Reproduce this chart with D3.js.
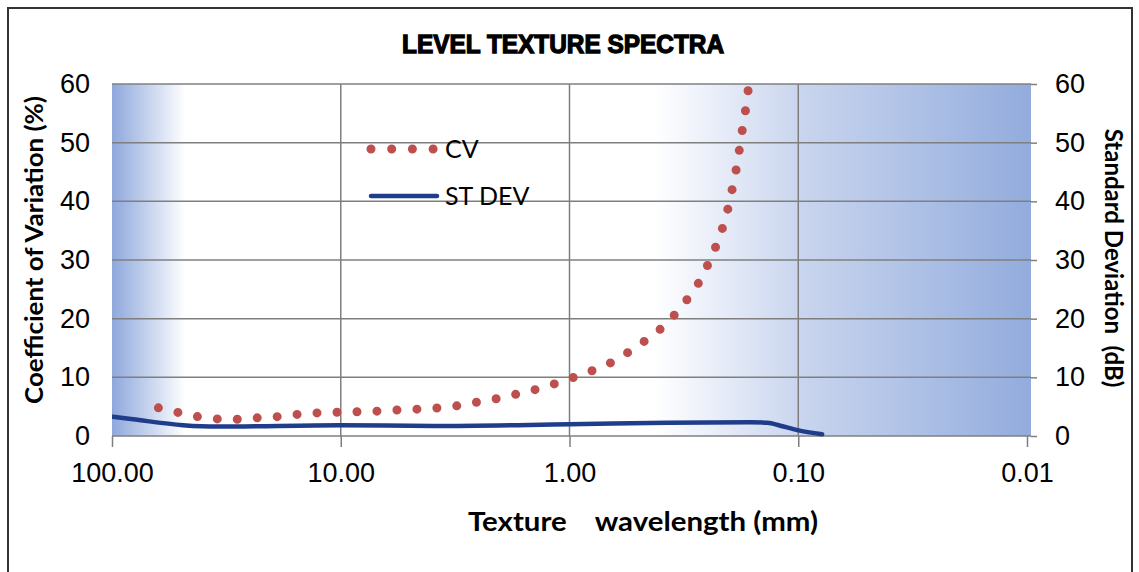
<!DOCTYPE html>
<html>
<head>
<meta charset="utf-8">
<script src="https://cdn.jsdelivr.net/npm/d3@7"></script>
<style>
  html, body { margin: 0; padding: 0; background: #fff; }
  svg { display: block; font-family: Lato, "Open Sans", sans-serif; }
</style>
</head>
<body>
<div id="viz_canvas"></div>
<script>
"use strict";

// chart text
var chartTitle = "LEVEL TEXTURE SPECTRA";
var xTitle = "Texture    wavelength (mm)";
var yLeftTitle = "Coefficient of Variation (%)";
var yRightTitle = "Standard Deviation  (dB)";
var seriesNames = ["CV", "ST DEV"];

// axis ticks
var xTicks = [100, 10, 1, 0.1, 0.01];
var yTicks = [0, 10, 20, 30, 40, 50, 60];

// CV series (dotted line), wavelength in mm
var cvWavelength = [62.7, 51.3, 42.2, 34.4, 28.3, 23.1, 18.9, 15.3, 12.5, 10.2, 8.33, 6.84, 5.55, 4.54, 3.72, 3.04, 2.48, 2.03, 1.66, 1.37, 1.12, 0.926, 0.766, 0.637, 0.538, 0.454, 0.388, 0.338, 0.298, 0.267, 0.244, 0.2255, 0.211, 0.2005, 0.1926, 0.185, 0.1795, 0.174, 0.1685, 0.1647, 0.16];
var cvValue = [4.8, 4.0, 3.3, 2.9, 2.85, 3.1, 3.3, 3.7, 3.95, 4.05, 4.15, 4.25, 4.45, 4.6, 4.8, 5.2, 5.85, 6.45, 7.25, 8.05, 9.1, 10.2, 11.4, 12.8, 14.6, 16.6, 18.7, 21.2, 23.9, 26.7, 29.9, 33.0, 36.3, 39.6, 42.9, 46.3, 49.7, 53.2, 56.5, 59.8, 63];

// ST DEV series (solid line)
var sdWavelength = [100, 80.9, 48.9, 34.7, 10.06, 3.94, 1.0, 0.373, 0.162, 0.1364, 0.1197, 0.1008, 0.0786];
var sdValue = [3.3, 2.85, 1.85, 1.6, 1.85, 1.7, 2.0, 2.25, 2.35, 2.25, 1.75, 1.0, 0.3];

var createChart = function () {
    var width = 1139, height = 572;
    var plot = { left: 112, right: 1027, top: 84, bottom: 436 };
    var svg = d3.select("#viz_canvas").append("svg")
        .attr("width", width).attr("height", height);
    var x, y;

    function start() {
        x = d3.scaleLog().domain([100, 0.01]).range([plot.left, plot.right]);
        y = d3.scaleLinear().domain([0, 60]).range([plot.bottom, plot.top]);
        drawFrame();
        drawBackground();
        drawGrid();
        drawAxes();
        drawSeries();
        drawLegend();
    }

    function drawFrame() {
        svg.append("rect")
            .attr("x", 8).attr("y", 8)
            .attr("width", 1124).attr("height", 620)
            .attr("fill", "#fff")
            .attr("stroke", "#333").attr("stroke-width", 2);

        svg.append("text")
            .attr("x", 563).attr("y", 53)
            .attr("text-anchor", "middle")
            .attr("font-family", "'Liberation Sans', Arial, sans-serif")
            .attr("font-weight", 900)
            .attr("font-size", 26)
            .attr("stroke", "#000").attr("stroke-width", 1.3)
            .attr("textLength", 322).attr("lengthAdjust", "spacingAndGlyphs")
            .text(chartTitle);
    }

    function drawBackground() {
        var grad = svg.append("defs").append("linearGradient")
            .attr("id", "plotBg").attr("x1", "0%").attr("x2", "100%");
        var stops = [[0, "#8ea8dc"], [0.08, "#ffffff"], [0.59, "#ffffff"], [0.75, "#c9d5ee"], [1, "#93acdd"]];
        grad.selectAll("stop").data(stops).enter().append("stop")
            .attr("offset", function (d) { return d[0]; })
            .attr("stop-color", function (d) { return d[1]; });

        svg.append("rect")
            .attr("x", plot.left).attr("y", plot.top)
            .attr("width", plot.right - plot.left + 4)
            .attr("height", plot.bottom - plot.top)
            .attr("fill", "url(#plotBg)");
    }

    function drawGrid() {
        svg.append("g").attr("class", "hgrid")
            .selectAll("line").data(yTicks.filter(function (d) { return d > 0; }))
            .enter().append("line")
            .attr("x1", plot.left).attr("x2", plot.right + 4)
            .attr("y1", function (d) { return y(d); })
            .attr("y2", function (d) { return y(d); })
            .attr("stroke", "#7f7f7f").attr("stroke-width", 1.5);

        svg.append("g").attr("class", "vgrid")
            .selectAll("line").data(xTicks.slice(1, -1))
            .enter().append("line")
            .attr("x1", function (d) { return x(d); })
            .attr("x2", function (d) { return x(d); })
            .attr("y1", plot.top).attr("y2", plot.bottom)
            .attr("stroke", "#7f7f7f").attr("stroke-width", 1.5);
    }

    function drawAxes() {
        var fmt = d3.format(".2f");
        var xAxis = svg.append("g")
            .attr("transform", "translate(0," + plot.bottom + ")")
            .call(d3.axisBottom(x).tickValues(xTicks).tickFormat(fmt)
                .tickSizeInner(11).tickSizeOuter(0).tickPadding(16));
        xAxis.select(".domain").attr("stroke", "#7f7f7f").attr("stroke-width", 1.5)
            .attr("d", "M" + plot.left + ",0H" + (plot.right + 4));
        xAxis.selectAll(".tick line").attr("stroke", "#7f7f7f").attr("stroke-width", 1.5);
        xAxis.selectAll(".tick text").attr("font-size", 27).attr("fill", "#000");

        var yLeft = svg.append("g")
            .attr("transform", "translate(" + plot.left + ",0)")
            .call(d3.axisLeft(y).tickValues(yTicks).tickSize(0).tickPadding(22));
        yLeft.select(".domain").remove();
        yLeft.selectAll(".tick text").attr("font-size", 27).attr("fill", "#000");

        var yRight = svg.append("g")
            .attr("transform", "translate(" + (plot.right + 4) + ",0)")
            .call(d3.axisRight(y).tickValues(yTicks).tickSize(6).tickPadding(18));
        yRight.select(".domain").remove();
        yRight.selectAll(".tick line").attr("stroke", "#7f7f7f").attr("stroke-width", 1.5);
        yRight.selectAll(".tick text").attr("font-size", 27).attr("fill", "#000");

        svg.append("text")
            .attr("x", 643).attr("y", 531)
            .attr("text-anchor", "middle")
            .attr("font-weight", "bold").attr("font-size", 27)
            .attr("textLength", 350).attr("lengthAdjust", "spacingAndGlyphs")
            .style("white-space", "pre")
            .text(xTitle);

        svg.append("text")
            .attr("transform", "translate(43,250) rotate(-90)")
            .attr("text-anchor", "middle")
            .attr("font-weight", "bold").attr("font-size", 25)
            .attr("textLength", 308).attr("lengthAdjust", "spacingAndGlyphs")
            .text(yLeftTitle);

        svg.append("text")
            .attr("transform", "translate(1105,258) rotate(90)")
            .attr("text-anchor", "middle")
            .attr("font-weight", "bold").attr("font-size", 24)
            .style("white-space", "pre")
            .text(yRightTitle);
    }

    function drawSeries() {
        svg.append("defs").append("clipPath").attr("id", "plotClip")
            .append("rect")
            .attr("x", plot.left).attr("y", plot.top - 5)
            .attr("width", plot.right - plot.left).attr("height", plot.bottom - plot.top + 10);

        var line = d3.line()
            .x(function (d) { return x(d[0]); })
            .y(function (d) { return y(d[1]); })
            .curve(d3.curveMonotoneX);

        var sdData = d3.zip(sdWavelength, sdValue);
        var cvData = d3.zip(cvWavelength, cvValue);

        var g = svg.append("g").attr("clip-path", "url(#plotClip)");

        g.append("path")
            .datum(sdData)
            .attr("d", line)
            .attr("fill", "none")
            .attr("stroke", "#1f3d8a").attr("stroke-width", 4.5)
            .attr("stroke-linecap", "round");

        var cvLine = d3.line()
            .x(function (d) { return x(d[0]); })
            .y(function (d) { return y(d[1]); })
            .curve(d3.curveCatmullRom);

        g.append("path")
            .datum(cvData.filter(function (d) { return d[1] <= 60; }))
            .attr("d", cvLine)
            .attr("fill", "none")
            .attr("stroke", "#be4f4f").attr("stroke-width", 9)
            .attr("stroke-linecap", "round")
            .attr("stroke-dasharray", "0 20");
    }

    function drawLegend() {
        var lg = svg.append("g").attr("class", "legend");
        lg.append("line")
            .attr("x1", 371).attr("x2", 434).attr("y1", 149).attr("y2", 149)
            .attr("stroke", "#be4f4f").attr("stroke-width", 9)
            .attr("stroke-linecap", "round").attr("stroke-dasharray", "0 20.7");
        lg.append("text")
            .attr("x", 445).attr("y", 149).attr("dy", "0.35em")
            .attr("font-size", 25).text(seriesNames[0]);

        lg.append("line")
            .attr("x1", 371).attr("x2", 437).attr("y1", 196).attr("y2", 196)
            .attr("stroke", "#1f3d8a").attr("stroke-width", 4.5)
            .attr("stroke-linecap", "round");
        lg.append("text")
            .attr("x", 445).attr("y", 196).attr("dy", "0.35em")
            .attr("font-size", 25).text(seriesNames[1]);
    }

    return {
        start: start
    };
};

createChart().start();
</script>
</body>
</html>
